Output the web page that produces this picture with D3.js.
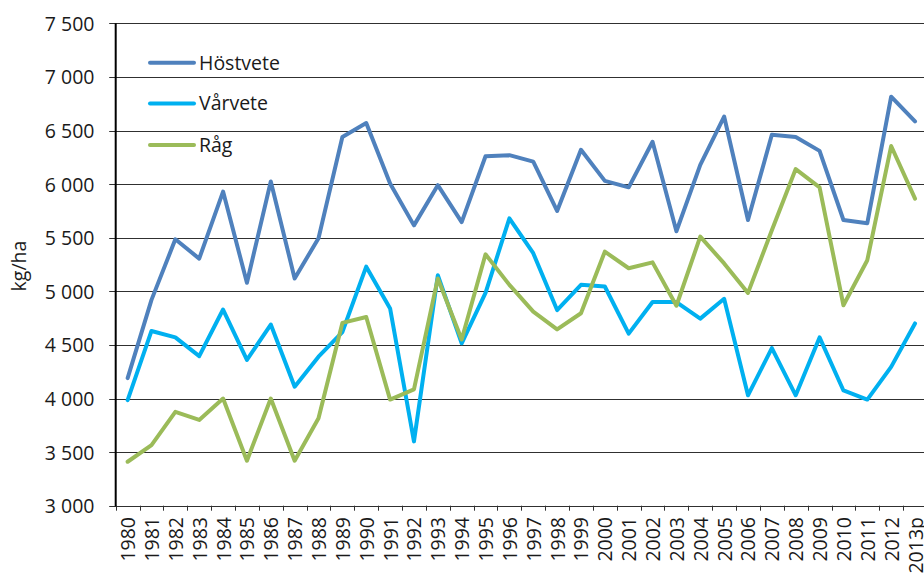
<!DOCTYPE html>
<html>
<head>
<meta charset="utf-8">
<script src="https://cdn.jsdelivr.net/npm/d3@7"></script>
<style>
  html, body { margin: 0; padding: 0; background: #fff; }
  svg { display: block; }
  text { font-family: "Open Sans", "Noto Sans", sans-serif; fill: #1a1a1a; }
</style>
</head>
<body>
<svg id="chart" width="924" height="575"></svg>
<script>
const years = ["1980","1981","1982","1983","1984","1985","1986","1987","1988","1989",
  "1990","1991","1992","1993","1994","1995","1996","1997","1998","1999",
  "2000","2001","2002","2003","2004","2005","2006","2007","2008","2009",
  "2010","2011","2012","2013p"];

const hostvete = [4190,4920,5485,5305,5930,5080,6025,5120,5495,6440,
  6570,6005,5615,5990,5645,6260,6270,6210,5750,6320,
  6030,5970,6395,5560,6180,6630,5665,6460,6440,6310,
  5665,5635,6815,6585];

const varvete = [3985,4630,4570,4395,4830,4360,4690,4110,4390,4620,
  5230,4840,3600,5150,4515,4985,5680,5355,4825,5060,
  5045,4605,4900,4900,4745,4930,4030,4470,4030,4570,
  4075,3990,4295,4700];

const rag = [3410,3565,3875,3800,4000,3420,4000,3420,3815,4705,
  4760,3990,4085,5120,4550,5345,5060,4810,4645,4795,
  5370,5215,5270,4865,5510,5260,4985,5570,6140,5970,
  4870,5290,6355,5865];

const seriesNames = ["Höstvete", "Vårvete", "Råg"];
const seriesColors = ["#4F81BD", "#00B0F0", "#9BBB59"];
const yTicks = [3000,3500,4000,4500,5000,5500,6000,6500,7000,7500];
const yTitle = "kg/ha";

const seriesData = [hostvete, varvete, rag];

const svg = d3.select("#chart");
const mLeft = 115.7, mTop = 23.3, mBottom = 505.7;
const step = 23.86;
const mRight = mLeft + step * years.length;

const x = d3.scaleBand().domain(years).range([mLeft, mRight]).paddingInner(0).paddingOuter(0);
const y = d3.scaleLinear().domain([3000, 7500]).range([mBottom, mTop]);

const fmt = v => d3.format(",")(v).replace(",", " ");

// gridlines
svg.append("g").selectAll("line").data(yTicks).join("line")
  .attr("x1", mLeft - 6.5).attr("x2", 924)
  .attr("y1", d => Math.round(y(d)) + 0.5).attr("y2", d => Math.round(y(d)) + 0.5)
  .attr("stroke", "#303030").attr("stroke-width", 1);

// y labels
svg.append("g").selectAll("text").data(yTicks).join("text")
  .attr("x", 94.5).attr("y", d => y(d))
  .attr("text-anchor", "end").attr("dominant-baseline", "central")
  .style("font-size", "19.5px")
  .text(d => fmt(d));

// y title
svg.append("text")
  .attr("transform", `translate(26,266) rotate(-90)`)
  .attr("text-anchor", "middle")
  .style("font-size", "19.5px")
  .text(yTitle);

// x ticks at band boundaries
const tickPos = years.map(d => x(d)).concat([mRight]);
svg.append("g").selectAll("line").data(tickPos).join("line")
  .attr("x1", d => Math.round(d) + 0.5).attr("x2", d => Math.round(d) + 0.5)
  .attr("y1", mBottom).attr("y2", mBottom + 5)
  .attr("stroke", "#303030").attr("stroke-width", 1);

// x labels
svg.append("g").selectAll("text").data(years).join("text")
  .attr("transform", d => `translate(${x(d) + x.bandwidth() / 2},517) rotate(-90)`)
  .attr("text-anchor", "end").attr("dominant-baseline", "central")
  .style("font-size", "19.5px")
  .text(d => d);

// y axis line
svg.append("line")
  .attr("x1", mLeft).attr("x2", mLeft).attr("y1", mTop).attr("y2", mBottom + 0.5)
  .attr("stroke", "#000").attr("stroke-width", 2);

// series lines
const line = d3.line()
  .x((d, i) => x(years[i]) + x.bandwidth() / 2)
  .y(d => y(d));

svg.append("g").selectAll("path").data(seriesData).join("path")
  .attr("d", d => line(d))
  .attr("fill", "none")
  .attr("stroke", (d, i) => seriesColors[i])
  .attr("stroke-width", 4)
  .attr("stroke-linejoin", "round")
  .attr("stroke-linecap", "round");

// legend
const legendY = [62.7, 103.5, 145];
const lg = svg.append("g").selectAll("g").data(seriesNames).join("g")
  .attr("transform", (d, i) => `translate(0,${legendY[i]})`);
lg.append("line")
  .attr("x1", 150).attr("x2", 194).attr("y1", 0).attr("y2", 0)
  .attr("stroke", (d, i) => seriesColors[i]).attr("stroke-width", 4)
  .attr("stroke-linecap", "round");
lg.append("text")
  .attr("x", 199).attr("y", 6.8)
  .style("font-size", "19.5px")
  .text(d => d);
</script>
</body>
</html>
